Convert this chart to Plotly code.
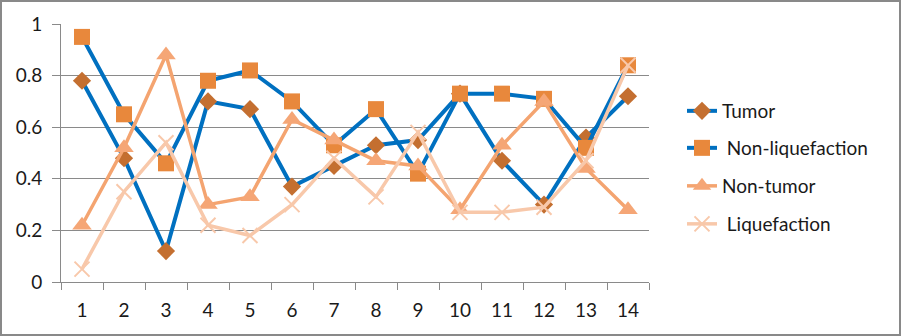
import plotly.graph_objects as go

categories = [str(i) for i in range(1, 15)]
tumor = [0.78, 0.48, 0.12, 0.70, 0.67, 0.37, 0.45, 0.53, 0.55, 0.73, 0.47, 0.30, 0.56, 0.72]
non_liquefaction = [0.95, 0.65, 0.46, 0.78, 0.82, 0.70, 0.53, 0.67, 0.42, 0.73, 0.73, 0.71, 0.52, 0.84]
non_tumor = [0.22, 0.52, 0.88, 0.30, 0.33, 0.63, 0.55, 0.47, 0.45, 0.28, 0.53, 0.70, 0.44, 0.28]
liquefaction = [0.05, 0.35, 0.54, 0.22, 0.18, 0.30, 0.48, 0.33, 0.58, 0.27, 0.27, 0.29, 0.47, 0.84]
y_ticks = [0, 0.2, 0.4, 0.6, 0.8, 1]
y_tick_text = ["0", "0.2", "0.4", "0.6", "0.8", "1"]

FONT = "Lato, 'Open Sans', sans-serif"
BLUE = "#0070C0"

W, H = 901, 336
ML, MR, MT, MB = 61, 252, 24, 54
PW, PH = W - ML - MR, H - MT - MB

fig = go.Figure()

series = [
    ("Tumor", tumor, BLUE, 4, dict(symbol="diamond", size=14, color="#C46F30")),
    (" Non-liquefaction", non_liquefaction, BLUE, 4, dict(symbol="square", size=16, color="#E8883C")),
    ("Non-tumor", non_tumor, "#F4A470", 3.5, dict(symbol="triangle-up", size=17, color="#F5A676")),
    (" Liquefaction", liquefaction, "#F8C8AA", 3.5, dict(symbol="x-thin", size=15, color="#F8C8AA",
                                                          line=dict(width=2, color="#F8C8AA"))),
]
legend_names = ["legend", "legend2", "legend3", "legend4"]
legend_y_px = [111, 148, 186, 224]

for (name, vals, lc, lw, mk), lg in zip(series, legend_names):
    fig.add_trace(go.Scatter(
        x=categories, y=vals, name=name, mode="lines+markers",
        line=dict(color=lc, width=lw), marker=mk, legend=lg, showlegend=True,
    ))

layout_legends = {}
for lg, ypx in zip(legend_names, legend_y_px):
    layout_legends[lg] = dict(
        x=(682 - ML) / PW, xanchor="left",
        y=1 - (ypx - MT) / PH, yanchor="middle",
        font=dict(family=FONT, size=19, color="#1a1a1a"),
        bgcolor="rgba(0,0,0,0)", borderwidth=0, visible=True,
    )

fig.update_layout(
    width=W, height=H,
    showlegend=True,
    margin=dict(l=ML, r=MR, t=MT, b=MB),
    paper_bgcolor="white", plot_bgcolor="white",
    font=dict(family=FONT, size=19, color="#1a1a1a"),
    **layout_legends,
    xaxis=dict(
        type="category", showgrid=False, showline=True, linecolor="#8a8a8a", linewidth=1,
        ticks="outside", tickson="boundaries", ticklen=7, tickcolor="#8a8a8a",
        tickfont=dict(family=FONT, size=19, color="#1a1a1a"), ticklabelstandoff=11,
        range=[-0.5, 13.5],
    ),
    yaxis=dict(
        range=[0, 1], tickvals=y_ticks, ticktext=y_tick_text,
        showgrid=True, gridcolor="#8a8a8a", gridwidth=1, zeroline=False,
        showline=True, linecolor="#8a8a8a", linewidth=1,
        ticks="outside", ticklen=8, tickcolor="#8a8a8a",
        tickfont=dict(family=FONT, size=19, color="#1a1a1a"), ticklabelstandoff=6,
    ),
    shapes=[dict(
        type="rect", xref="paper", yref="paper",
        x0=(1 - ML) / PW, x1=(W - 1 - ML) / PW,
        y0=-(H - 1 - MT - PH) / PH, y1=1 + (MT - 1) / PH,
        line=dict(color="#898989", width=2), fillcolor="rgba(0,0,0,0)", layer="above",
    )],
)

fig.write_html(
    "out.html",
    config={"displayModeBar": False},
    post_script="document.body.style.margin='0';document.body.style.overflow='hidden';",
)
